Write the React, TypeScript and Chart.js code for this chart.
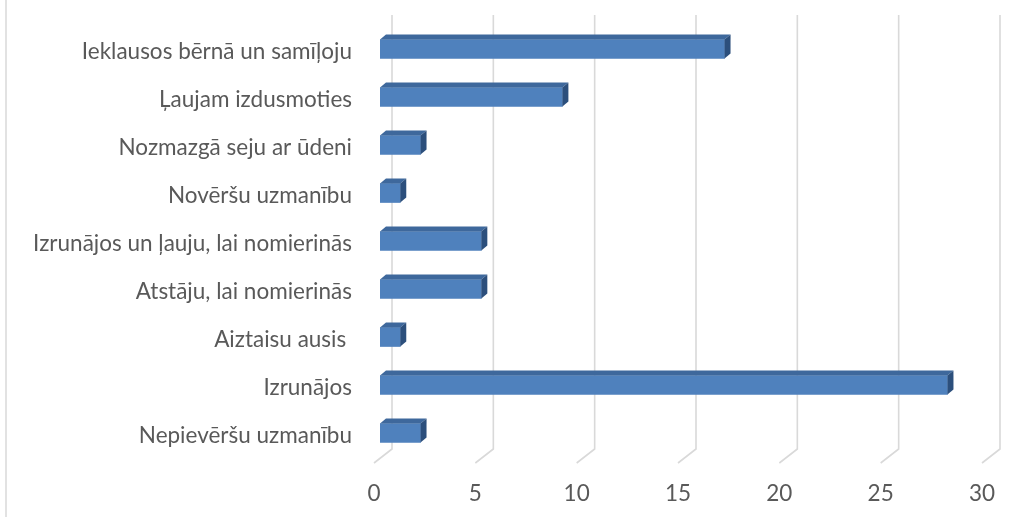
import React, { useEffect, useRef } from "react";
import { Chart, registerables } from "chart.js";

Chart.register(...registerables);

const categories = [
  "Ieklausos bērnā un samīļoju",
  "Ļaujam izdusmoties",
  "Nozmazgā seju ar ūdeni",
  "Novēršu uzmanību",
  "Izrunājos un ļauju, lai nomierinās",
  "Atstāju, lai nomierinās",
  "Aiztaisu ausis ",
  "Izrunājos",
  "Nepievēršu uzmanību",
];

const values = [17, 9, 2, 1, 5, 5, 1, 28, 2];

const xMin = 0;
const xMax = 30;
const xStep = 5;

const FRONT = "#4f81bd";
const TOP = "#3e689c";
const SIDE = "#2c4f7c";
const GRID = "#d9d9d9";
const TEXT = "#595959";
const FONT = "Lato";

function fitFontSize(): number {
  const ctx = document.createElement("canvas").getContext("2d");
  if (!ctx) return 21;
  ctx.font = `24px ${FONT}`;
  const w = ctx.measureText("Ieklausos bērnā un samīļoju").width;
  return Math.round(((24 * 270) / w) * 10) / 10;
}

const depthPlugin = {
  id: "depth3d",
  beforeDraw(chart: any) {
    const ctx = chart.ctx;
    ctx.save();
    ctx.strokeStyle = GRID;
    ctx.lineWidth = 1.5;
    ctx.beginPath();
    ctx.moveTo(6, 0);
    ctx.lineTo(6, chart.height);
    ctx.stroke();
    ctx.restore();
  },
  beforeDatasetsDraw(chart: any) {
    const ctx = chart.ctx;
    const xs = chart.scales.x;
    const area = chart.chartArea;
    ctx.save();
    ctx.strokeStyle = GRID;
    ctx.lineWidth = 1.6;
    ctx.lineJoin = "miter";
    xs.ticks.forEach((t: any) => {
      const px = xs.getPixelForValue(t.value);
      ctx.beginPath();
      ctx.moveTo(px + 12, area.top - 10);
      ctx.lineTo(px + 12, area.bottom - 8);
      ctx.lineTo(px - 6, area.bottom + 6);
      ctx.stroke();
    });
    ctx.restore();
  },
  afterDatasetsDraw(chart: any) {
    const ctx = chart.ctx;
    const dx = 6;
    const dy = -5;
    const meta = chart.getDatasetMeta(0);
    ctx.save();
    meta.data.forEach((el: any) => {
      const p = el.getProps(["x", "y", "base", "height"], true);
      const top = p.y - p.height / 2;
      const bottom = p.y + p.height / 2;
      const left = p.base;
      const right = p.x;
      ctx.fillStyle = TOP;
      ctx.beginPath();
      ctx.moveTo(left, top);
      ctx.lineTo(left + dx, top + dy);
      ctx.lineTo(right + dx, top + dy);
      ctx.lineTo(right, top);
      ctx.closePath();
      ctx.fill();
      ctx.fillStyle = SIDE;
      ctx.beginPath();
      ctx.moveTo(right, top);
      ctx.lineTo(right + dx, top + dy);
      ctx.lineTo(right + dx, bottom + dy);
      ctx.lineTo(right, bottom);
      ctx.closePath();
      ctx.fill();
    });
    ctx.restore();
  },
};

export default function App() {
  const canvasRef = useRef<HTMLCanvasElement | null>(null);

  useEffect(() => {
    if (!canvasRef.current) return;
    const fs = fitFontSize();
    const chart = new Chart(canvasRef.current, {
      type: "bar",
      data: {
        labels: categories,
        datasets: [
          {
            data: values,
            backgroundColor: FRONT,
            borderWidth: 0,
            barThickness: 19,
          },
        ],
      },
      options: {
        indexAxis: "y",
        animation: false,
        responsive: false,
        maintainAspectRatio: false,
        layout: { padding: { top: 25, right: 24, left: 0, bottom: 0 } },
        plugins: {
          legend: { display: false },
          tooltip: { enabled: false },
          title: { display: false },
        },
        scales: {
          x: {
            type: "linear",
            min: xMin,
            max: xMax,
            grid: { display: false, drawTicks: false },
            border: { display: false },
            ticks: {
              stepSize: xStep,
              color: TEXT,
              font: { family: FONT, size: fs },
              padding: 23,
              labelOffset: -6,
              maxRotation: 0,
            },
            afterFit: (s: any) => {
              s.height = 60;
              s.paddingLeft = 0;
              s.paddingRight = 0;
            },
          },
          y: {
            type: "category",
            grid: { display: false, drawTicks: false },
            border: { display: false },
            ticks: {
              color: TEXT,
              font: { family: FONT, size: fs },
              padding: 28,
              labelOffset: 3,
              autoSkip: false,
            },
            afterFit: (s: any) => {
              s.width = 380;
              s.paddingTop = 0;
              s.paddingBottom = 0;
            },
          },
        },
      },
      plugins: [depthPlugin],
    });
    return () => chart.destroy();
  }, []);

  return (
    <div
      style={{
        position: "fixed",
        left: 0,
        top: 0,
        width: 1012,
        height: 517,
        background: "#ffffff",
      }}
    >
      <canvas
        ref={canvasRef}
        width={1012}
        height={517}
        style={{ display: "block", width: 1012, height: 517 }}
      />
    </div>
  );
}
